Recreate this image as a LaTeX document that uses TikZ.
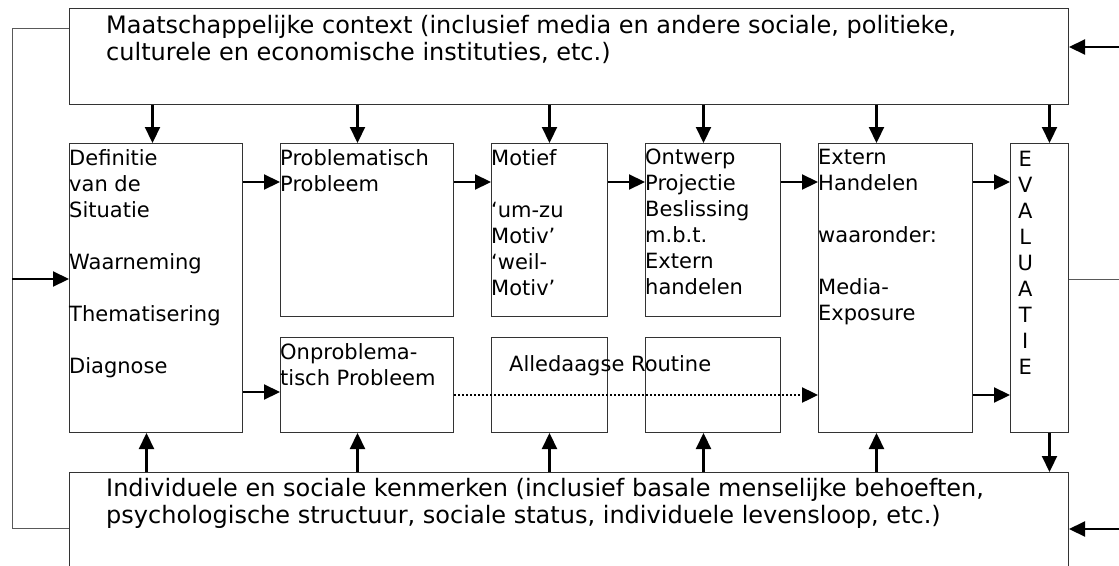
\documentclass[tikz,border=0pt]{standalone}
\usepackage{fontspec}
\setmainfont{DejaVu Sans}
\usetikzlibrary{positioning,arrows.meta}

\begin{document}
\begin{tikzpicture}[x=1pt,y=-1pt,
  asb box/.style={draw=black!80, line width=1pt, rectangle, inner sep=0pt, anchor=north west},
  asb text/.style={inner sep=0pt, anchor=north west, align=left, font=\fontsize{21}{26}\selectfont},
  asb big/.style={asb text, font=\fontsize{24}{27.5}\selectfont},
  asb arrow/.style={-{Triangle[length=16pt,width=15pt]}, line width=2.2pt},
  asb loop/.style={draw=black!65, line width=1pt}]
  \useasboundingbox (0,0) rectangle (1119,565);
  \clip (0,0) rectangle (1119,565);

  % context boxes
  \node[asb box, minimum width=999pt, minimum height=96pt] (top) at (69,8) {};
  \node[asb box, minimum width=999pt, minimum height=120pt] (bottom) at (69,472) {};
  \node[asb big] (toptext) at ([xshift=37pt,yshift=-7pt]top.north west)
    {Maatschappelijke context (inclusief media en andere sociale, politieke,\\culturele en economische instituties, etc.)};
  \node[asb big] (bottomtext) at ([xshift=37pt,yshift=-6pt]bottom.north west)
    {Individuele en sociale kenmerken (inclusief basale menselijke behoeften,\\psychologische structuur, sociale status, individuele levensloop, etc.)};

  % stages
  \node[asb box, minimum width=173pt, minimum height=289pt] (defin) at (69,143) {};
  \node[asb box, minimum width=173pt, minimum height=173pt] (probl) at (280,143) {};
  \node[asb box, minimum width=173pt, minimum height=95pt] (onprobl) at (280,337) {};
  \node[asb box, minimum width=116pt, minimum height=173pt] (motief) at (491,143) {};
  \node[asb box, minimum width=116pt, minimum height=95pt] (routa) at (491,337) {};
  \node[asb box, minimum width=135pt, minimum height=173pt] (ontwerp) at (645,143) {};
  \node[asb box, minimum width=135pt, minimum height=95pt] (routb) at (645,337) {};
  \node[asb box, minimum width=154pt, minimum height=289pt] (extern) at (818,143) {};
  \node[asb box, minimum width=58pt, minimum height=289pt] (eval) at (1010,143) {};

  \node[asb text] (definx) at ([yshift=-6pt]defin.north west)
    {Definitie\\van de\\Situatie\\[26pt]Waarneming\\[26pt]Thematisering\\[26pt]Diagnose};
  \node[asb text] (problx) at ([yshift=-6pt]probl.north west) {Problematisch\\Probleem};
  \node[asb text] (onproblx) at ([yshift=-6pt]onprobl.north west) {Onproblema-\\tisch Probleem};
  \node[asb text] (motiefx) at ([yshift=-6pt]motief.north west)
    {Motief\\[26pt]‘um-zu\\Motiv’\\‘weil-\\Motiv’};
  \node[asb text] (ontwerpx) at ([yshift=-6pt]ontwerp.north west)
    {Ontwerp\\Projectie\\Beslissing\\m.b.t.\\Extern\\handelen};
  \node[asb text] (externx) at ([yshift=-6pt]extern.north west)
    {Extern\\Handelen\\[26pt]waaronder:\\[26pt]Media-\\Exposure};
  \node[asb text, align=center, text width=30pt] (evalx) at ([yshift=-8pt]eval.north west)
    {E\\V\\A\\L\\U\\A\\T\\I\\E};
  \node[asb text] (routx) at ([xshift=18pt,yshift=-18pt]routa.north west) {Alledaagse Routine};

  % rows for the horizontal arrows
  \coordinate (rowa) at (0,182);
  \coordinate (rowb) at (0,392);
  \coordinate (rowc) at (0,395);

  \draw[asb arrow] (defin.east |- rowa) -- (probl.west |- rowa);
  \draw[asb arrow] (probl.east |- rowa) -- (motief.west |- rowa);
  \draw[asb arrow] (motief.east |- rowa) -- (ontwerp.west |- rowa);
  \draw[asb arrow] (ontwerp.east |- rowa) -- (extern.west |- rowa);
  \draw[asb arrow] (extern.east |- rowa) -- (eval.west |- rowa);
  \draw[asb arrow] (defin.east |- rowb) -- (onprobl.west |- rowb);
  \draw[asb arrow, line width=2.4pt, dash pattern=on 2.4pt off 1.6pt] (onprobl.east |- rowc) -- (extern.west |- rowc);
  \draw[asb arrow] (extern.east |- rowc) -- (eval.west |- rowc);

  % from the context boxes
  \foreach \n/\dx in {defin/-3.5, probl/-9.5, motief/0, ontwerp/-9.5, extern/-19, eval/10}
    \draw[asb arrow] ([xshift=\dx pt]\n.north |- top.south) -- ([xshift=\dx pt]\n.north);
  \foreach \n/\dx in {defin/-9.5, onprobl/-9.5, routa/0, routb/-9.5, extern/-19}
    \draw[asb arrow] ([xshift=\dx pt]\n.south |- bottom.north) -- ([xshift=\dx pt]\n.south);
  \draw[asb arrow] ([xshift=10pt]eval.south) -- ([xshift=10pt]eval.south |- bottom.north);

  % feedback
  \coordinate (lt) at (12,28);
  \coordinate (lb) at (12,528);
  \coordinate (lm) at (12,279);
  \coordinate (rt) at (1119,47);
  \coordinate (rm) at (1119,279);
  \coordinate (rb) at (1119,529);
  \draw[asb loop] (top.west |- lt) -- (lt) -- (lb) -- (lb -| bottom.west);
  \draw[asb arrow] (lm) -- (lm -| defin.west);
  \draw[asb loop] (eval.east |- rm) -- (rm);
  \draw[asb arrow] (rt) -- (rt -| top.east);
  \draw[asb arrow] (rb) -- (rb -| bottom.east);
\end{tikzpicture}
\end{document}
